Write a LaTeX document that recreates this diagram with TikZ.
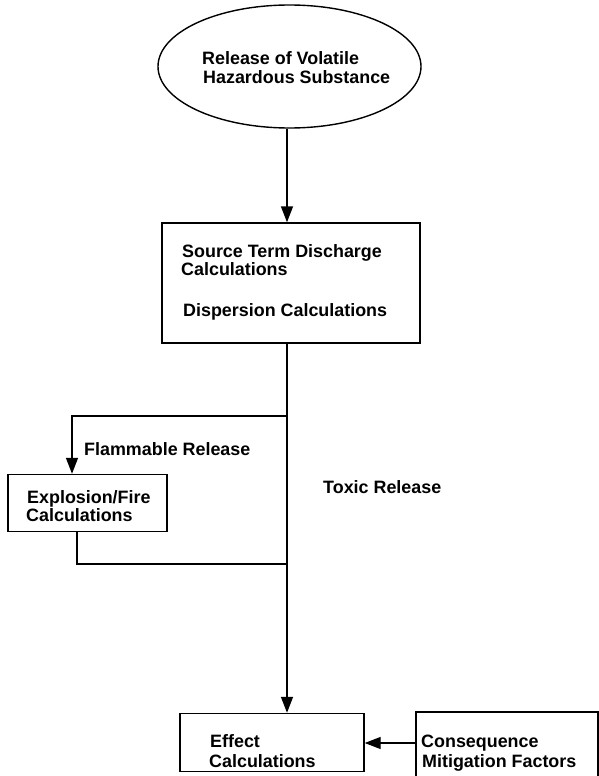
\documentclass[tikz,border=0pt]{standalone}
\usepackage{fontspec}
\setmainfont{Liberation Sans}
\usetikzlibrary{shapes.geometric,arrows.meta}
\begin{document}
\begin{tikzpicture}[x=1pt,y=-1pt,
  shapeline/.style={draw=black,line width=1.4pt,inner sep=0pt},
  boxnode/.style={shapeline,rectangle},
  arr/.style={line width=1.4pt,-{Triangle[length=16pt,width=12pt]}},
  plain/.style={line width=1.4pt},
  lbl/.style={anchor=base west,inner sep=0pt,font=\fontsize{17.9}{20}\selectfont\bfseries}]
\useasboundingbox (0,0) rectangle (599,776);
\fill[white] (0,0) rectangle (599,776);
% shapes
\node[shapeline,ellipse,minimum width=263pt,minimum height=123pt] (rel) at (289.5,66.5) {};
\node[boxnode,minimum width=258pt,minimum height=120pt] (src) at (291,283) {};
\node[boxnode,minimum width=159pt,minimum height=57pt] (exp) at (87.5,503) {};
\node[boxnode,minimum width=184pt,minimum height=58pt] (eff) at (272,742.5) {};
\node[boxnode,minimum width=182pt,minimum height=80pt] (con) at (507,752) {};
% texts
\node[lbl] (t1) at (202,65) {Release of Volatile};
\node[lbl] (t2) at (203,84) {Hazardous Substance};
\node[lbl] (t3) at (182,257) {Source Term Discharge};
\node[lbl] (t4) at (181,275) {Calculations};
\node[lbl] (t5) at (183,316) {Dispersion Calculations};
\node[lbl] (t6) at (84,455) {Flammable Release};
\node[lbl] (t7) at (323,493) {Toxic Release};
\node[lbl] (t8) at (27,503.5) {Explosion/Fire};
\node[lbl] (t9) at (26,521) {Calculations};
\node[lbl] (t10) at (210,747) {Effect};
\node[lbl] (t11) at (209,767) {Calculations};
\node[lbl] (t12) at (421,747) {Consequence};
\node[lbl] (t13) at (422,767) {Mitigation Factors};
% helper coordinates
\coordinate (sx) at (287,0);
\coordinate (ex) at (72,0);
\coordinate (ey) at (77,0);
\coordinate (ay) at (0,743);
\coordinate (b1) at (287,416);
\coordinate (b2) at (287,564);
% connectors
\draw[arr] (rel.south -| sx) -- (src.north -| sx);
\draw[arr] (src.south -| sx) -- (eff.north -| sx);
\draw[arr] (b1) -| (ex |- exp.north);
\draw[plain] (ey |- exp.south) |- (b2);
\draw[arr] (con.west |- ay) -- (eff.east |- ay);
\end{tikzpicture}
\end{document}
